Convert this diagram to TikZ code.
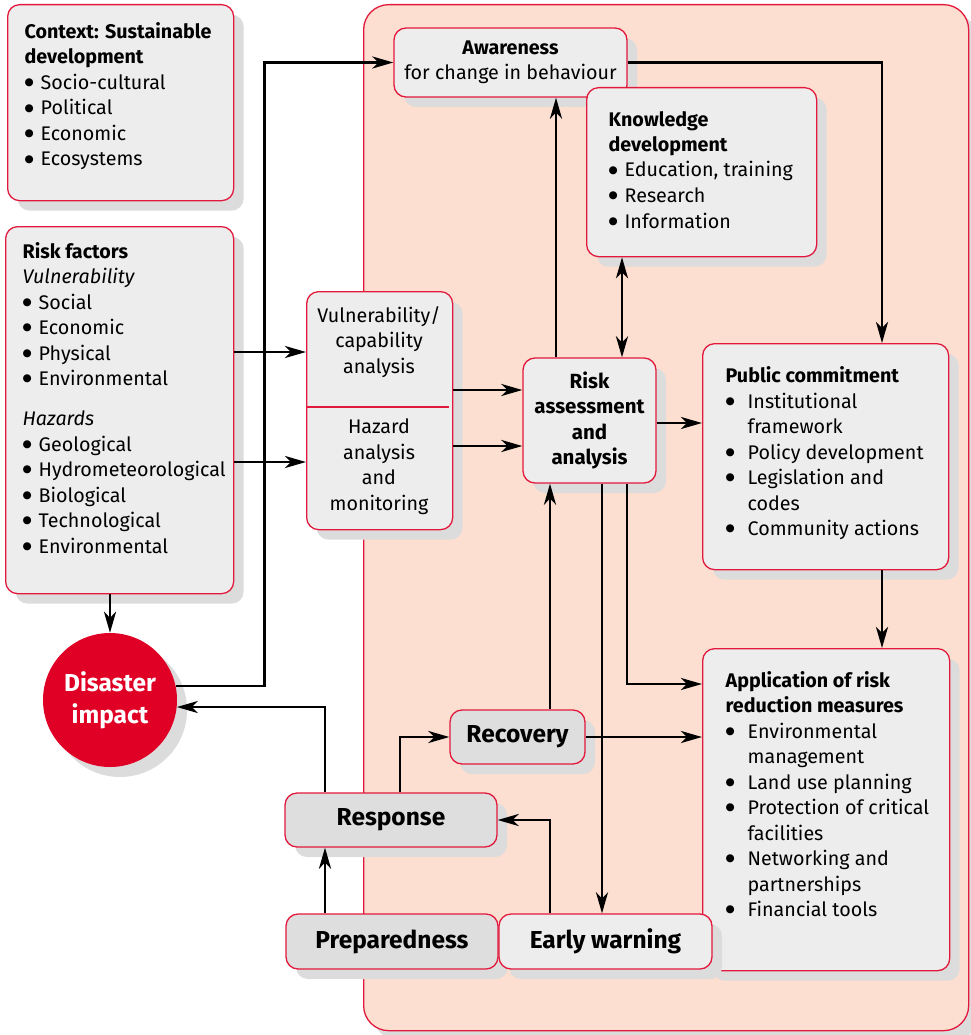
\documentclass[tikz,border=0pt]{standalone}
\usepackage{fontspec}
\setmainfont{Fira Sans}
\newfontfamily\bulfont{DejaVu Sans}
\usepackage{xcolor}
\usepackage{tikz}
\usetikzlibrary{arrows.meta, shadows, calc}

\definecolor{boxred}{HTML}{E2193C}
\definecolor{boxgray}{HTML}{EDEDED}
\definecolor{phasegray}{HTML}{DEDEDE}
\definecolor{shadowgray}{HTML}{DCDCDC}
\definecolor{salmon}{HTML}{FCDFD0}
\definecolor{disred}{HTML}{E00025}

\newcommand{\itm}[1][16pt]{\makebox[#1][l]{\raisebox{3.8pt}{\bulfont\fontsize{10.5}{10.5}\selectfont ●}}}
\newcommand{\cont}{\hspace*{22pt}}
\newcommand{\listtext}[3]{\parbox[c][#2][t]{#1}{\begin{tabular}[t]{@{}l@{}}#3\end{tabular}}}

\tikzset{
  shad/.style={drop shadow={shadow xshift=10pt, shadow yshift=-10pt, fill=shadowgray, opacity=1}},
  box/.style={draw=boxred, fill=boxgray, line width=1.3pt, rounded corners=12pt, shad},
  listbox/.style={box, anchor=north west, align=left},
  phase/.style={box, fill=phasegray, inner sep=0pt, font=\fontsize{24.5}{30}\selectfont\bfseries},
  arr/.style={line width=2.7pt, -{Stealth[length=21pt, width=12pt, inset=6pt]}},
  dblarr/.style={line width=2.7pt, {Stealth[length=21pt, width=12pt, inset=6pt]}-{Stealth[length=21pt, width=12pt, inset=6pt]}}
}

\begin{document}
\fontsize{19.7}{25.5}\selectfont
\begin{tikzpicture}[x=1pt, y=-1pt]
\useasboundingbox (0,0) rectangle (970,1035);

\node(bg)[box, fill=salmon, rounded corners=25pt, minimum width=605pt, minimum height=1026pt, anchor=north west, inner sep=0pt] at (363,4) {};

\node(ctx)[listbox, inner xsep=17pt, inner ysep=16pt] at (7,4) {\listtext{192pt}{164pt}{%
  \textbf{Context: Sustainable}\\ \textbf{development}\\
  \itm Socio-cultural\\ \itm Political\\ \itm Economic\\ \itm Ecosystems}};

\node(rf)[listbox, inner xsep=17pt, inner ysep=13.5pt] at (5,226) {\listtext{194pt}{340pt}{%
  \textbf{Risk factors}\\ \textit{Vulnerability}\\
  \itm Social\\ \itm Economic\\ \itm Physical\\ \itm Environmental\\[14.5pt]
  \textit{Hazards}\\
  \itm Geological\\ \itm Hydrometeorological\\ \itm Biological\\ \itm Technological\\ \itm Environmental}};

\node(dis)[circle, fill=disred, minimum size=134pt, inner sep=0pt, text=white, align=center, font=\fontsize{24.5}{32}\selectfont\bfseries, shad] at (110,700) {Disaster\\impact};

\node(aw)[box, minimum width=233pt, minimum height=69pt, inner sep=0pt, align=center, font=\fontsize{19.7}{24.5}\selectfont] at (510.5,62.5) {\textbf{Awareness}\\for change in behaviour};

\node(kd)[listbox, inner xsep=22pt, inner ysep=20.5pt] at (586,87) {\listtext{186pt}{128pt}{%
  \textbf{Knowledge}\\ \textbf{development}\\
  \itm Education, training\\ \itm Research\\ \itm Information}};

\node(vul)[box, minimum width=146pt, minimum height=238pt, anchor=north west, inner sep=0pt] at (306,291) {};
\draw[boxred, line width=2.4pt] (vul.west |- 0,407) -- ($(vul.east |- 0,407)+(-4,0)$);
\node(vultxt)[align=center] at (379,342) {Vulnerability/\\capability\\analysis};
\node(haztxt)[align=center] at (379,466.5) {Hazard\\analysis\\and\\monitoring};

\node(ra)[box, minimum width=133pt, minimum height=125pt, inner sep=0pt, align=center, font=\fontsize{20.5}{25.6}\selectfont\bfseries] at (589.5,420.5) {Risk\\assessment\\and\\analysis};

\node(pc)[listbox, inner xsep=23pt, inner ysep=21pt] at (702,343) {\listtext{200pt}{184pt}{%
  \textbf{Public commitment}\\
  \itm[22pt]Institutional\\ \cont framework\\
  \itm[22pt]Policy development\\
  \itm[22pt]Legislation and\\ \cont codes\\
  \itm[22pt]Community actions}};

\node(app)[listbox, inner xsep=23pt, inner ysep=20.5pt] at (702,648) {\listtext{201pt}{281pt}{%
  \textbf{Application of risk}\\ \textbf{reduction measures}\\
  \itm[22pt]Environmental\\ \cont management\\
  \itm[22pt]Land use planning\\
  \itm[22pt]Protection of critical\\ \cont facilities\\
  \itm[22pt]Networking and\\ \cont partnerships\\
  \itm[22pt]Financial tools}};

\node(rec)[phase, minimum width=135pt, minimum height=54pt] at (517.5,737) {Recovery};
\node(resp)[phase, minimum width=212pt, minimum height=54pt] at (391,820) {Response};
\node(prep)[phase, minimum width=212pt, minimum height=55pt] at (392,941.5) {Preparedness};
\node(ew)[phase, fill=boxgray, minimum width=213pt, minimum height=55pt] at (605.5,941.5) {Early warning};

% connectors
\draw[arr] (dis.12) -- ++(89,0) |- (aw.west);
\draw[arr] (rf.east |- 0,352) -- (vul.west |- 0,352);
\draw[arr] (rf.east |- 0,462) -- (vul.west |- 0,462);
\draw[arr] (vul.east |- 0,390) -- (ra.west |- 0,390);
\draw[arr] (vul.east |- 0,446) -- (ra.west |- 0,446);
\draw[arr] (ra.east |- 0,423) -- (pc.west |- 0,423);
\draw[arr] (ra.north -| 556,0) -- (aw.south -| 556,0);
\draw[dblarr] (kd.south -| 622,0) -- (ra.north -| 622,0);
\draw[arr] (aw.east) -| (pc.north -| 882,0);
\draw[arr] (pc.south -| 882,0) -- (app.north -| 882,0);
\draw[arr] (ra.south -| 627,0) |- (app.west |- 0,684);
\draw[arr] (ra.south -| 602,0) -- (ew.north -| 602,0);
\draw[arr] (rec.north -| 550,0) -- (ra.south -| 550,0);
\draw[arr] (rec.east) -- (app.west |- rec.east);
\draw[arr] (resp.north -| 400,0) |- (rec.west);
\draw[arr] (resp.north -| 325,0) |- (dis.-6);
\draw[arr] (ew.north -| 550,0) |- (resp.east);
\draw[arr] (prep.north -| 325,0) -- (resp.south -| 325,0);
\draw[arr] (rf.south -| dis.north) -- (dis.north);
\end{tikzpicture}
\end{document}
